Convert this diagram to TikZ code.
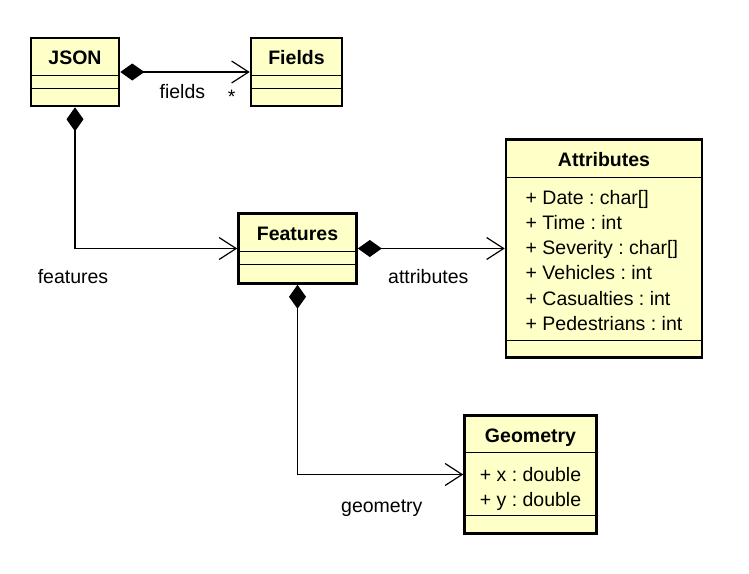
\documentclass[tikz,border=0pt]{standalone}
\usepackage{fontspec}
\setmainfont{Liberation Sans}
\usetikzlibrary{arrows.meta, positioning}
\definecolor{classyellow}{HTML}{FFFFC8}

\begin{document}
\begin{tikzpicture}[x=1pt, y=-1pt,
    font=\fontsize{19.5pt}{25.2pt}\selectfont\frenchspacing,
    class/.style={draw, line width=2.6pt, fill=classyellow, inner sep=0pt},
    classname/.style={font=\fontsize{19.5pt}{25.2pt}\selectfont\bfseries, anchor=base, inner sep=0pt},
    members/.style={align=left, anchor=base, inner sep=0pt},
    divider/.style={line width=1pt},
    composition/.style={line width=1.2pt, {Diamond[length=24pt,width=17pt]}-{Straight Barb[length=17pt,width=22pt]}},
    role/.style={anchor=base, inner sep=0pt}]
    \useasboundingbox (0,0) rectangle (749,573);  % Fixes the page size

    % Classes
    \node (json) [class, minimum width=88pt, minimum height=68pt] at (75,72) {};  % JSON class box
    \node (jsonname) [classname] at ([yshift=-28pt]json.north) {JSON};
    \draw [divider] ([yshift=-39pt]json.north west) -- ([yshift=-39pt]json.north east);
    \draw [divider] ([yshift=-52pt]json.north west) -- ([yshift=-52pt]json.north east);

    \node (fields) [class, minimum width=91pt, minimum height=68pt] at (296.5,72) {};  % Fields class box
    \node (fieldsname) [classname] at ([yshift=-28pt]fields.north) {Fields};
    \draw [divider] ([yshift=-39pt]fields.north west) -- ([yshift=-39pt]fields.north east);
    \draw [divider] ([yshift=-52pt]fields.north west) -- ([yshift=-52pt]fields.north east);

    \node (features) [class, minimum width=118pt, minimum height=70pt] at (297.5,248.5) {};  % Features class box
    \node (featuresname) [classname] at ([yshift=-28pt]features.north) {Features};
    \draw [divider] ([yshift=-39.5pt]features.north west) -- ([yshift=-39.5pt]features.north east);
    \draw [divider] ([yshift=-52pt]features.north west) -- ([yshift=-52pt]features.north east);

    \node (attributes) [class, minimum width=196pt, minimum height=218pt] at (604,248.5) {};  % Attributes class box
    \node (attributesname) [classname] at ([yshift=-28pt]attributes.north) {Attributes};
    \draw [divider] ([yshift=-39pt]attributes.north west) -- ([yshift=-39pt]attributes.north east);
    \node (attributeslist) [members] at ([yshift=-192pt]attributes.north) {+ Date : char[]\\+ Time : int\\+ Severity : char[]\\+ Vehicles : int\\+ Casualties : int\\+ Pedestrians : int};  % base sits on the last line
    \draw [divider] ([yshift=-202pt]attributes.north west) -- ([yshift=-202pt]attributes.north east);

    \node (geometry) [class, minimum width=132pt, minimum height=118pt] at (530.5,474.5) {};  % Geometry class box
    \node (geometryname) [classname] at ([yshift=-28pt]geometry.north) {Geometry};
    \draw [divider] ([yshift=-38pt]geometry.north west) -- ([yshift=-38pt]geometry.north east);
    \node (geometrylist) [members] at ([yshift=-92pt]geometry.north) {+ x : double\\+ y : double};
    \draw [divider] ([yshift=-101pt]geometry.north west) -- ([yshift=-101pt]geometry.north east);

    % Compositions
    \draw [composition] (json) -- node[role, pos=.48, yshift=-26pt] {fields} node[role, pos=.86, yshift=-31pt] {*} (fields);
    \draw [composition] (json) |- node[role, pos=.5, xshift=-2pt, yshift=-34.5pt] {features} (features);
    \draw [composition] (features) -- node[role, pos=.48, yshift=-34.5pt] {attributes} (attributes);
    \draw [composition] (features) |- node[role, pos=.75, xshift=1.5pt, yshift=-37.5pt] {geometry} (geometry);
\end{tikzpicture}
\end{document}
